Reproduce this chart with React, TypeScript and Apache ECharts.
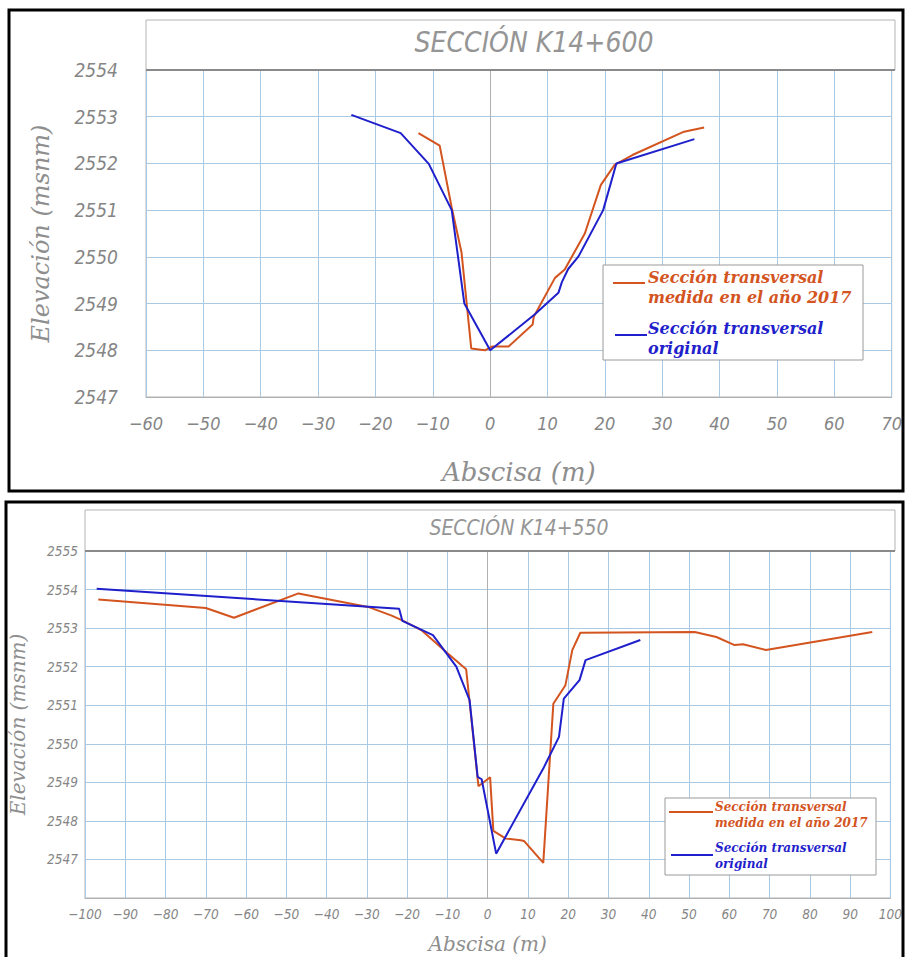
import React, { useEffect, useRef } from "react";
import * as echarts from "echarts";

// ---- Data: Sección K14+600 ----
const k600Measured2017: [number, number][] = [
  [-12.5, 2552.65], [-8.8, 2552.38], [-6.7, 2551.05], [-5.0, 2550.1], [-3.3, 2548.04],
  [-0.9, 2548.0], [0.3, 2548.08], [3.2, 2548.08], [7.4, 2548.55], [7.6, 2548.72],
  [11.3, 2549.55], [13.0, 2549.73], [16.5, 2550.5], [19.3, 2551.54], [21.7, 2551.97],
  [24.8, 2552.18], [33.8, 2552.68], [37.3, 2552.77],
];
const k600Original: [number, number][] = [
  [-24.2, 2553.04], [-15.6, 2552.65], [-10.7, 2551.99], [-6.7, 2551.0], [-4.5, 2549.0],
  [0, 2548.0], [7.8, 2548.77], [11.9, 2549.23], [12.5, 2549.46], [13.6, 2549.74],
  [15.4, 2550.01], [19.7, 2551.0], [22.0, 2552.0], [35.6, 2552.52],
];

// ---- Data: Sección K14+550 ----
const k550Measured2017: [number, number][] = [
  [-96.7, 2553.74], [-70.0, 2553.52], [-63.0, 2553.27], [-47.0, 2553.9], [-29.7, 2553.55],
  [-24.0, 2553.33], [-21.2, 2553.2], [-16.5, 2552.95], [-9.9, 2552.34], [-5.35, 2551.93],
  [-4.5, 2551.09], [-2.3, 2548.9], [0.6, 2549.13], [1.4, 2547.74], [4.5, 2547.54],
  [8.2, 2547.5], [9.0, 2547.48], [13.8, 2546.91], [16.3, 2551.04], [19.3, 2551.52],
  [21.0, 2552.43], [23.0, 2552.88], [51.4, 2552.9], [56.8, 2552.77], [61.3, 2552.56],
  [63.4, 2552.58], [69.1, 2552.43], [95.5, 2552.9],
];
const k550Original: [number, number][] = [
  [-97.1, 2554.02], [-22.0, 2553.5], [-21.2, 2553.19], [-13.6, 2552.82], [-7.8, 2552.0],
  [-4.5, 2551.13], [-2.5, 2549.14], [-1.5, 2549.08], [2.1, 2547.15], [14.0, 2549.4],
  [17.7, 2550.18], [18.9, 2551.17], [22.8, 2551.65], [24.3, 2552.17], [37.9, 2552.69],
];

const titles = ["SECCIÓN K14+600", "SECCIÓN K14+550"];
const seriesNames = ["Sección transversal\nmedida en el año 2017", "Sección transversal\noriginal"];
const xAxisTitle = "Abscisa (m)";
const yAxisTitle = "Elevación (msnm)";
const xRanges = [[-60, 70], [-100, 100]];
const yRanges = [[2547, 2554], [2546, 2555]];

const ORANGE = "#d3541f";
const BLUE = "#1f1fcc";
const GRID_BLUE = "#a9c9e4";
const LABEL_GRAY = "#858585";
const SANS = "'DejaVu Sans Condensed', 'DejaVu Sans', sans-serif";
const SERIF = "'DejaVu Serif', serif";

const minus = (v: number) => String(v).replace("-", "\u2212");

function buildOption() {
  const grids = [
    { left: 146, top: 70, width: 749, height: 327 },
    { left: 85, top: 551, width: 810, height: 347 },
  ];
  const xFont = [18, 13.5];
  const yFont = [19, 13.5];
  const xMargin = [17, 9];
  const yMargin = [28, 7];
  const xNameFont = [26, 20];
  const yNameFont = [24, 20];
  const xNameGap = [62, 36];
  const yNameGap = [93, 57];

  const xAxis = [0, 1].map((i) => ({
    type: "value",
    gridIndex: i,
    min: xRanges[i][0],
    max: xRanges[i][1],
    interval: 10,
    axisLine: { show: true, lineStyle: { color: "#b0b0b0", width: 1 } },
    axisTick: { show: false },
    splitLine: { show: true, lineStyle: { color: GRID_BLUE, width: 1 } },
    axisLabel: {
      margin: xMargin[i],
      color: LABEL_GRAY,
      fontFamily: SANS,
      fontStyle: "italic",
      fontSize: xFont[i],
      formatter: (v: number) => minus(v),
    },
    name: xAxisTitle,
    nameLocation: "middle",
    nameGap: xNameGap[i],
    nameTextStyle: { fontFamily: SERIF, fontStyle: "italic", fontSize: xNameFont[i], color: "#8e8e8e" },
  }));

  const yAxis = [0, 1].map((i) => ({
    type: "value",
    gridIndex: i,
    min: yRanges[i][0],
    max: yRanges[i][1],
    interval: 1,
    axisLine: { show: true, lineStyle: { color: "#b0b0b0", width: 1 } },
    axisTick: { show: false },
    splitLine: { show: true, lineStyle: { color: GRID_BLUE, width: 1 } },
    axisLabel: {
      margin: yMargin[i],
      color: LABEL_GRAY,
      fontFamily: SANS,
      fontStyle: "italic",
      fontSize: yFont[i],
      formatter: (v: number) => (i === 1 && v === 2546 ? "" : String(v)),
    },
    name: yAxisTitle,
    nameLocation: "middle",
    nameGap: yNameGap[i],
    nameTextStyle: { fontFamily: SERIF, fontStyle: "italic", fontSize: yNameFont[i], color: "#8e8e8e" },
  }));

  const mk = (name: string, data: [number, number][], color: string, idx: number) => ({
    type: "line",
    name,
    xAxisIndex: idx,
    yAxisIndex: idx,
    data,
    showSymbol: false,
    symbol: "none",
    z: 5,
    lineStyle: { color, width: 2 },
    itemStyle: { color },
  });

  const series = [
    mk(seriesNames[0], k600Measured2017, ORANGE, 0),
    mk(seriesNames[1], k600Original, BLUE, 0),
    mk(seriesNames[0], k550Measured2017, ORANGE, 1),
    mk(seriesNames[1], k550Original, BLUE, 1),
  ];

  const legendBlock = (
    box: { x: number; y: number; w: number; h: number },
    lines: { x1: number; x2: number; y: number; color: string; tx: number; ty: number; text: string }[],
    fontSize: number,
    lineHeight: number
  ) => [
    {
      type: "rect",
      z: 50,
      shape: { x: box.x, y: box.y, width: box.w, height: box.h },
      style: { fill: "#ffffff", stroke: "#9a9a9a", lineWidth: 1 },
    },
    ...lines.flatMap((l) => [
      {
        type: "line",
        z: 51,
        shape: { x1: l.x1, y1: l.y, x2: l.x2, y2: l.y },
        style: { stroke: l.color, lineWidth: 2 },
      },
      {
        type: "text",
        z: 51,
        x: l.tx,
        y: l.ty,
        style: {
          text: l.text,
          fill: l.color,
          fontFamily: SERIF,
          fontStyle: "italic",
          fontWeight: "bold",
          fontSize,
          lineHeight,
          verticalAlign: "top",
          align: "left",
        },
      },
    ]),
  ];

  const graphic = [
    // outer black frames
    { type: "rect", z: 60, shape: { x: 9, y: 10, width: 894, height: 481 }, style: { fill: "none", stroke: "#000", lineWidth: 3 } },
    { type: "rect", z: 60, shape: { x: 6, y: 502, width: 897, height: 470 }, style: { fill: "none", stroke: "#000", lineWidth: 3 } },
    // title boxes
    { type: "rect", z: 1, shape: { x: 146, y: 20, width: 749, height: 50 }, style: { fill: "none", stroke: "#b4b4b4", lineWidth: 1 } },
    { type: "line", z: 10, shape: { x1: 146, y1: 70, x2: 895, y2: 70 }, style: { stroke: "#8a8a8a", lineWidth: 2 } },
    { type: "rect", z: 1, shape: { x: 85, y: 510, width: 810, height: 41 }, style: { fill: "none", stroke: "#b4b4b4", lineWidth: 1 } },
    { type: "line", z: 10, shape: { x1: 85, y1: 551, x2: 895, y2: 551 }, style: { stroke: "#8a8a8a", lineWidth: 2 } },
    ...legendBlock(
      { x: 603, y: 265, w: 260, h: 95 },
      [
        { x1: 613, x2: 645, y: 283, color: ORANGE, tx: 648, ty: 267, text: seriesNames[0] },
        { x1: 615, x2: 647, y: 335, color: BLUE, tx: 648, ty: 318, text: seriesNames[1] },
      ],
      16,
      20
    ),
    ...legendBlock(
      { x: 665, y: 798, w: 211, h: 77 },
      [
        { x1: 669, x2: 713, y: 812, color: ORANGE, tx: 715, ty: 799, text: seriesNames[0] },
        { x1: 671, x2: 713, y: 855, color: BLUE, tx: 715, ty: 840, text: seriesNames[1] },
      ],
      12,
      16
    ),
  ];

  return {
    animation: false,
    backgroundColor: "#ffffff",
    title: [
      {
        text: titles[0],
        left: 534,
        top: 28,
        padding: 0,
        textAlign: "center",
        textStyle: { fontFamily: SANS, fontStyle: "italic", fontWeight: "normal", fontSize: 28, color: "#959595" },
      },
      {
        text: titles[1],
        left: 519,
        top: 517,
        padding: 0,
        textAlign: "center",
        textStyle: { fontFamily: SANS, fontStyle: "italic", fontWeight: "normal", fontSize: 21, color: "#959595" },
      },
    ],
    grid: grids.map((g) => ({ ...g, show: true, borderColor: "#b4b4b4", borderWidth: 1, backgroundColor: "transparent", containLabel: false })),
    xAxis,
    yAxis,
    series,
    graphic,
  };
}

export default function App() {
  const ref = useRef<HTMLDivElement>(null);
  useEffect(() => {
    if (!ref.current) return;
    const chart = echarts.init(ref.current, null, { renderer: "svg" });
    chart.setOption(buildOption() as any);
    return () => chart.dispose();
  }, []);
  return (
    <div
      ref={ref}
      style={{ position: "absolute", left: 0, top: 0, width: 905, height: 957, background: "#fff" }}
    />
  );
}
